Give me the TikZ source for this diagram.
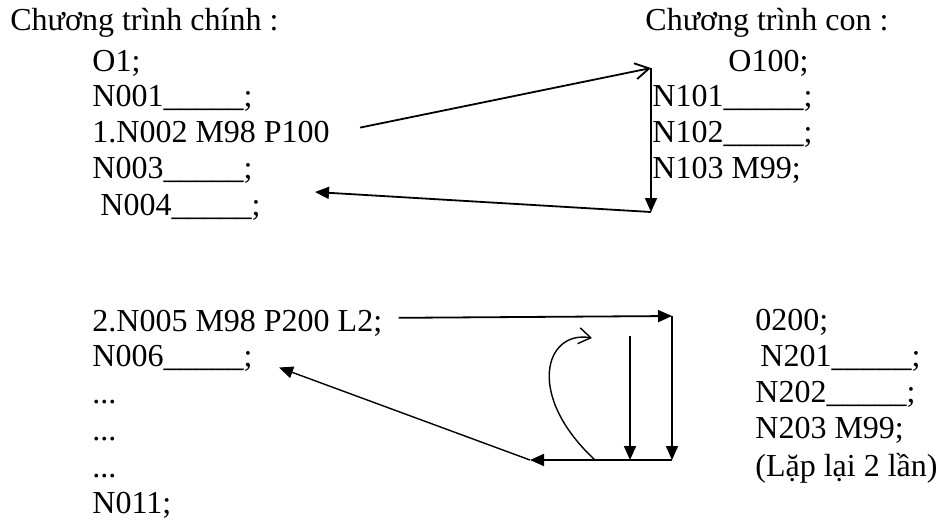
\documentclass[tikz,border=0pt]{standalone}
\usepackage{fontspec}
\setmainfont{Liberation Serif}
\usetikzlibrary{arrows.meta}

\newcommand{\blank}{\_\_\_\_\_}

\begin{document}
\begin{tikzpicture}[x=0.5pt,y=-0.5pt,
    code/.style={anchor=base west, inner sep=0pt, font=\fontsize{16}{19}\selectfont},
    flow/.style={line width=0.9pt, -{Triangle[length=7pt,width=6pt]}},
    back/.style={line width=0.7pt, -{Straight Barb[length=6pt,width=8pt]}}]

    \useasboundingbox (0,0) rectangle (942,520);

    % main program
    \node[code] (mainhead) at (10,30) {Chương trình chính :};
    \node[code] (o1)   at (92,71)  {O1;};
    \node[code] (n001) at (92,106) {N001\blank;};
    \node[code] (n002) at (92,142) {1.N002 M98 P100};
    \node[code] (n003) at (92,178) {N003\blank;};
    \node[code] (n004) at (100,215) {N004\blank;};

    \node[code] (n005) at (92,331) {2.N005 M98 P200 L2;};
    \node[code] (n006) at (92,366) {N006\blank;};
    \node[code] (dots1) at (92,403) {...};
    \node[code] (dots2) at (92,440) {...};
    \node[code] (dots3) at (92,477) {...};
    \node[code] (n011) at (92,513) {N011;};

    % subprograms
    \node[code] (subhead) at (645,30) {Chương trình con :};
    \node[code] (o100) at (728,71)  {O100;};
    \node[code] (n101) at (652,106) {N101\blank;};
    \node[code] (n102) at (652,142) {N102\blank;};
    \node[code] (n103) at (652,178) {N103 M99;};

    \node[code] (o200) at (755,330) {0200;};
    \node[code] (n201) at (760,366) {N201\blank;};
    \node[code] (n202) at (755,402) {N202\blank;};
    \node[code] (n203) at (755,438) {N203 M99;};
    \node[code] (repeat) at (755,476) {(Lặp lại 2 lần)};

    % corners of the jumps
    \coordinate (sub1top) at (651,68);
    \coordinate (sub1bot) at (651,212);
    \coordinate (back1) at (315,192);
    \coordinate (sub2top) at (672,316);
    \coordinate (sub2bot) at (672,460);
    \coordinate (ret2) at (530,460);
    \coordinate (loop) at (630,336);
    \coordinate (loopend) at (630,460);
    \coordinate (again) at (595,460);
    \coordinate (jump) at (592,338);

    % call of O100
    \draw[back, line width=0.9pt, -{Straight Barb[length=7pt,width=8pt]}] ([shift={(30,-4)}]n002.east) -- (sub1top);
    \draw[flow] (sub1top) -- (sub1bot);
    \draw[flow] (sub1bot) -- (back1);

    % call of O200, twice
    \draw[flow] ([shift={(16,-5)}]n005.east) -- (sub2top);
    \draw[flow] (sub2top) -- (sub2bot);
    \draw[flow] (loop) -- (loopend);
    \draw[flow] (sub2bot) -- (ret2);
    \draw[flow, line width=0.7pt, shorten >=14pt] (ret2) -- (n006.east);
    \draw[back] (again) .. controls (525,395) and (545,330) .. (jump);
\end{tikzpicture}
\end{document}
